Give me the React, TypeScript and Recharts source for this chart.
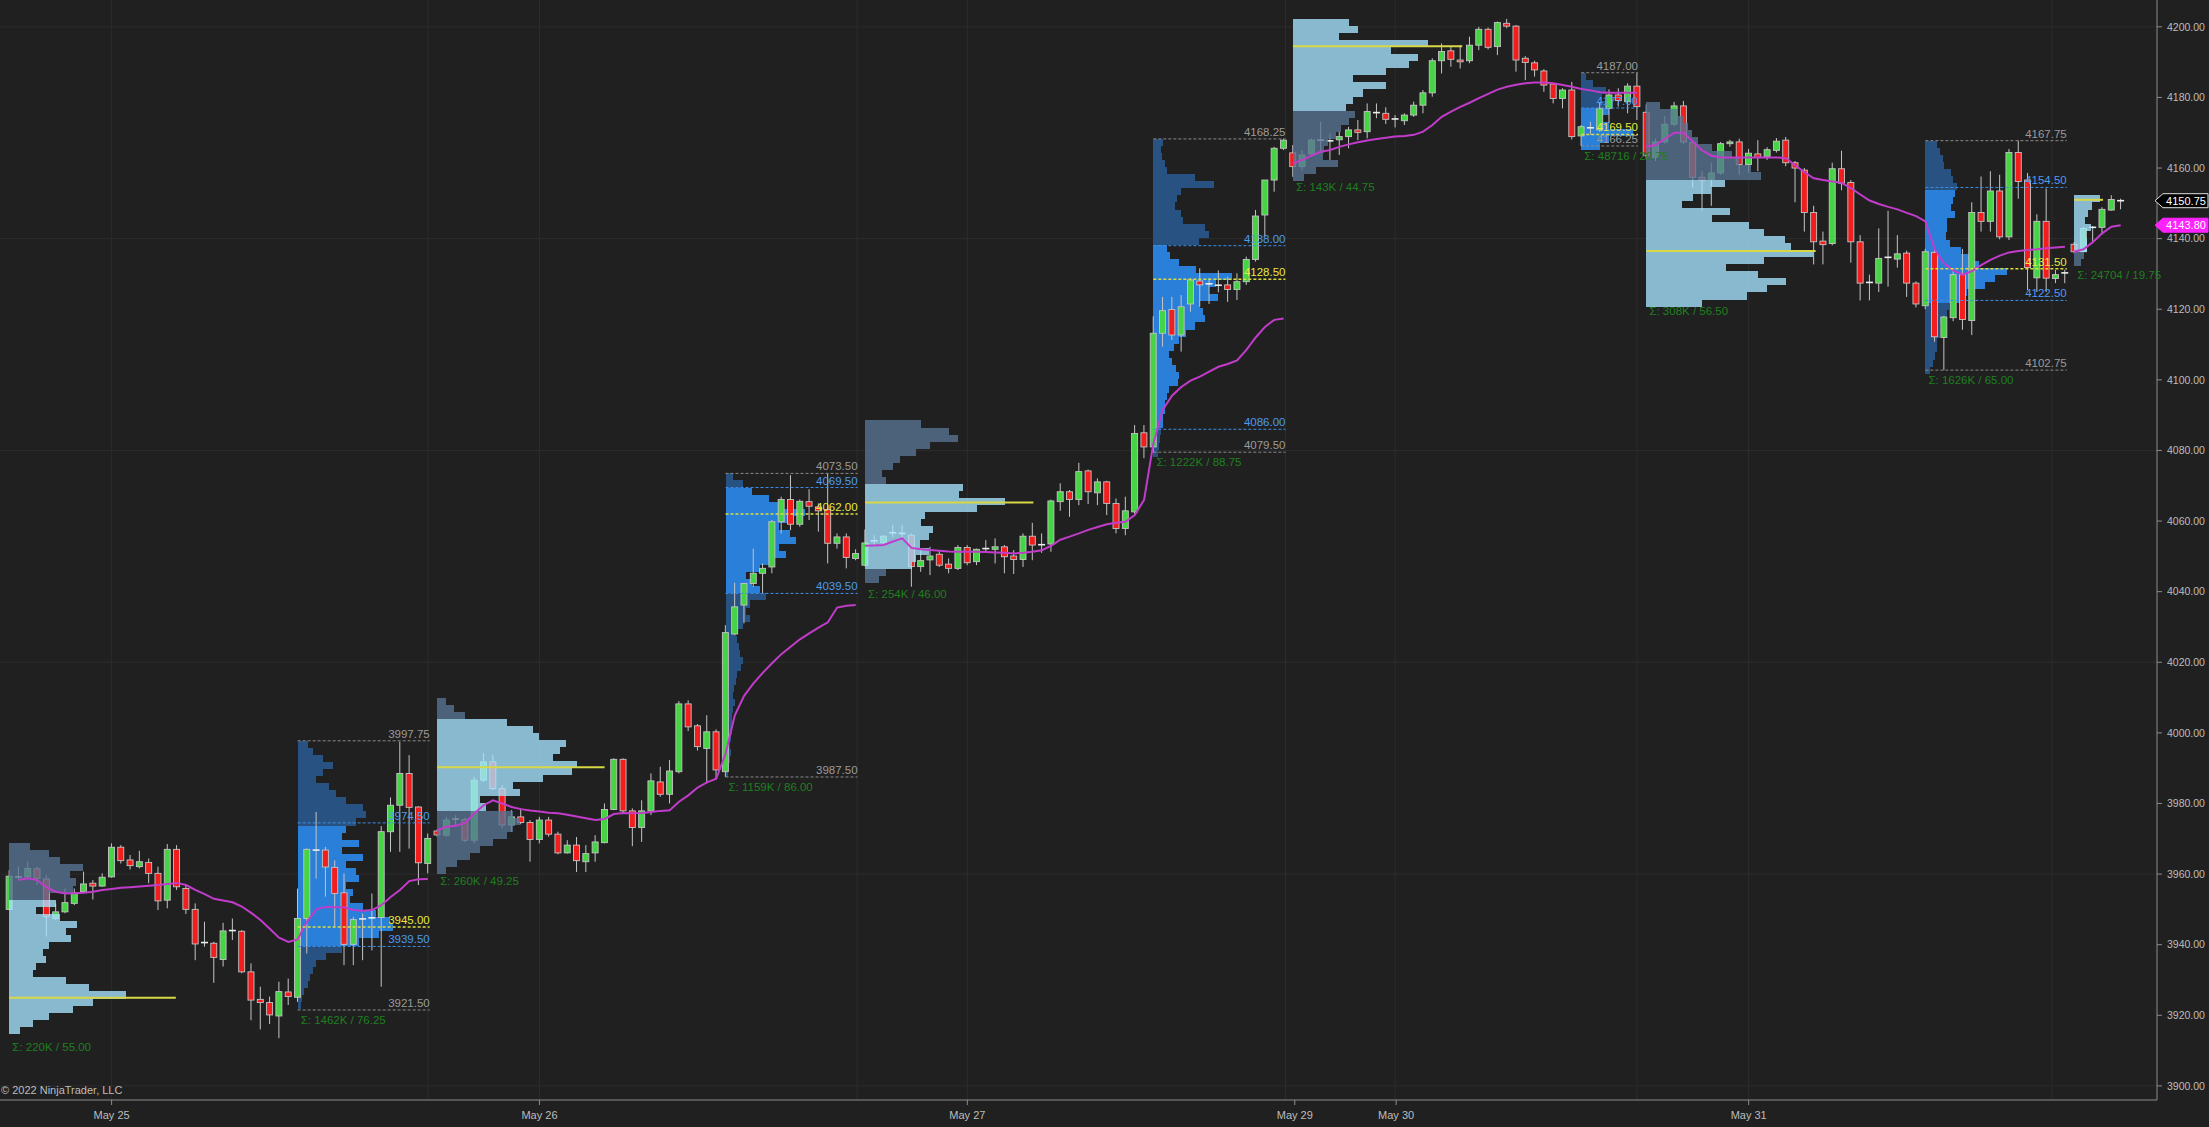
import React from "react";
import {
  ComposedChart,
  Bar,
  Line,
  XAxis,
  YAxis,
  ReferenceArea,
  ReferenceLine,
  ReferenceDot,
} from "recharts";

const FONT = "Liberation Sans, Arial, sans-serif";
const BG = "#202020";
const UP = "#45d443";
const DOWN = "#f21d1d";
const WICK = "#c4c4c4";
const VWAP = "#c23ccb";
const RTH_VA = "#2a7fd8";
const RTH_OUT = "#285282";
const ETH_VA = "#a5e4ff";
const ETH_OUT = "#577593";
const GRAY = "#9b9b9b";
const BLUE = "#4c9bef";
const YELLOW = "#e8e83e";
const GREEN = "#1f7f1f";
const BIN = 2;

// 30 min bars, index 0 .. 227
const opens = [
  3950.0, 3959.4, 3959.2, 3961.5, 3958.6, 3947.4, 3949.3, 3951.7, 3955.0, 3957.4,
  3956.6, 3959.2, 3967.6, 3964.0, 3962.1, 3963.3, 3960.2, 3952.6, 3967.0, 3955.9,
  3950.0, 3940.2, 3940.4, 3935.8, 3943.6, 3943.8, 3932.3, 3924.5, 3923.6, 3919.8,
  3926.6, 3925.1, 3947.4, 3967.0, 3966.8, 3961.9, 3954.7, 3940.1, 3947.1, 3947.4,
  3947.7, 3972.0, 3979.5, 3988.5, 3979.0, 3963.0, 3972.2, 3971.0, 3975.4, 3975.5,
  3969.6, 3986.6, 3991.8, 3984.2, 3973.9, 3976.2, 3974.6, 3969.8, 3975.3, 3971.3,
  3966.0, 3968.2, 3963.5, 3966.0, 3968.9, 3978.3, 3992.5, 3977.9, 3973.2, 3977.9,
  3986.1, 3982.6, 3989.0, 4008.2, 4002.0, 3995.6, 4000.3, 3989.0, 4028.0, 4036.2,
  4042.3, 4045.2, 4047.0, 4059.8, 4066.1, 4059.1, 4065.5, 4064.0, 4063.3, 4053.7,
  4055.5, 4049.4, 4047.5, 4054.0, 4053.9, 4056.5, 4056.7, 4056.0, 4047.1, 4049.0,
  4050.6, 4047.8, 4046.6, 4052.5, 4048.5, 4052.1, 4052.0, 4052.7, 4050.1, 4049.1,
  4055.7, 4053.2, 4053.5, 4065.5, 4068.3, 4066.1, 4074.2, 4068.0, 4071.1, 4065.0,
  4057.9, 4062.6, 4085.0, 4081.0, 4113.2, 4119.9, 4112.7, 4121.5, 4128.0, 4127.1,
  4127.2, 4126.9, 4125.6, 4127.8, 4134.1, 4146.7, 4156.6, 4165.6, 4164.3, 4160.4,
  4164.0, 4167.7, 4167.9, 4168.0, 4168.9, 4170.8, 4170.3, 4175.8, 4175.5, 4173.8,
  4173.4, 4175.0, 4177.8, 4181.3, 4190.4, 4193.2, 4190.6, 4190.4, 4194.8, 4199.3,
  4194.4, 4201.0, 4200.2, 4191.1, 4189.8, 4187.5, 4183.8, 4179.7, 4182.1, 4169.1,
  4171.5, 4170.8, 4176.9, 4180.7, 4178.8, 4183.2, 4175.8, 4163.0, 4167.4, 4172.4,
  4177.6, 4167.2, 4157.4, 4156.8, 4158.6, 4166.9, 4167.4, 4161.0, 4164.0, 4163.3,
  4165.0, 4167.9, 4161.5, 4159.4, 4147.4, 4139.3, 4138.6, 4159.8, 4155.9, 4139.1,
  4127.4, 4127.4, 4134.4, 4134.2, 4135.9, 4127.4, 4121.0, 4136.1, 4112.0, 4117.6,
  4129.8, 4116.8, 4147.4, 4144.9, 4153.5, 4140.5, 4164.4, 4156.6, 4128.9, 4144.9,
  4128.7, 4130.0, 4138.4, 4136.3, 4143.0, 4143.2, 4148.1, 4150.9,
];
const highs = [
  3961.1, 3962.1, 3963.5, 3962.1, 3959.7, 3951.7, 3955.9, 3955.9, 3960.7, 3958.3,
  3960.2, 3968.7, 3968.2, 3965.4, 3966.6, 3964.4, 3962.1, 3968.5, 3968.2, 3956.9,
  3951.7, 3946.5, 3940.8, 3946.2, 3947.4, 3944.1, 3934.7, 3928.1, 3925.3, 3929.5,
  3930.4, 3955.9, 3967.3, 3977.6, 3967.7, 3963.9, 3960.2, 3947.9, 3948.8, 3954.5,
  3973.6, 3981.7, 3997.5, 3993.7, 3979.2, 3971.5, 3972.6, 3976.2, 3976.7, 3976.0,
  3987.5, 3994.2, 3993.7, 3985.2, 3978.1, 3978.6, 3975.3, 3976.2, 3976.2, 3972.0,
  3969.6, 3970.5, 3968.2, 3971.0, 3980.0, 3992.8, 3992.8, 3978.6, 3980.9, 3988.5,
  3990.4, 3992.3, 4009.0, 4009.2, 4002.5, 4005.0, 4001.0, 4030.5, 4042.5, 4042.5,
  4052.2, 4048.0, 4060.3, 4066.9, 4073.0, 4066.1, 4069.0, 4065.0, 4073.5, 4056.5,
  4056.5, 4052.0, 4057.6, 4056.0, 4056.0, 4058.9, 4058.9, 4056.5, 4051.8, 4052.7,
  4051.8, 4049.4, 4053.2, 4053.2, 4052.2, 4054.6, 4055.1, 4053.2, 4051.8, 4056.5,
  4059.5, 4056.5, 4066.1, 4070.7, 4068.8, 4076.5, 4074.6, 4072.1, 4071.4, 4066.4,
  4066.9, 4087.2, 4087.2, 4118.0, 4123.5, 4123.5, 4124.0, 4128.8, 4131.6, 4128.8,
  4131.0, 4129.2, 4130.2, 4134.9, 4148.1, 4156.6, 4166.0, 4168.25, 4166.5, 4165.1,
  4168.4, 4173.1, 4169.8, 4170.3, 4171.7, 4173.6, 4178.3, 4178.3, 4177.2, 4175.0,
  4175.5, 4178.8, 4182.1, 4191.1, 4195.3, 4194.4, 4194.8, 4197.2, 4200.0, 4199.8,
  4201.5, 4202.25, 4200.5, 4191.7, 4190.4, 4188.0, 4184.0, 4182.6, 4184.4, 4172.2,
  4173.1, 4178.5, 4182.3, 4182.6, 4184.0, 4187.0, 4178.0, 4168.3, 4174.7, 4178.75,
  4179.0, 4167.4, 4159.1, 4161.5, 4167.4, 4168.0, 4168.3, 4165.4, 4167.9, 4165.9,
  4168.5, 4168.8, 4162.0, 4160.0, 4149.3, 4142.0, 4161.5, 4164.9, 4156.6, 4141.0,
  4129.8, 4142.9, 4147.9, 4141.0, 4136.6, 4127.9, 4137.1, 4137.1, 4118.1, 4131.7,
  4137.1, 4150.3, 4157.6, 4159.1, 4158.1, 4165.4, 4167.75, 4158.6, 4146.9, 4154.2,
  4131.2, 4131.2, 4139.0, 4143.4, 4143.6, 4148.9, 4152.3, 4151.3,
];
const lows = [
  3949.8, 3958.3, 3959.0, 3956.9, 3942.3, 3947.0, 3948.9, 3951.2, 3954.7, 3952.8,
  3956.4, 3959.0, 3963.0, 3961.3, 3961.6, 3957.4, 3949.8, 3950.3, 3955.5, 3948.7,
  3935.6, 3939.4, 3929.2, 3933.8, 3941.3, 3931.9, 3918.6, 3916.0, 3917.5, 3913.5,
  3922.9, 3923.8, 3937.5, 3958.7, 3953.6, 3945.1, 3934.2, 3934.2, 3935.6, 3938.4,
  3928.1, 3966.3, 3966.3, 3967.2, 3956.9, 3960.2, 3970.6, 3970.6, 3973.4, 3969.1,
  3968.7, 3986.1, 3983.8, 3972.9, 3972.0, 3974.1, 3963.5, 3968.7, 3970.6, 3965.6,
  3965.8, 3960.6, 3960.6, 3963.5, 3968.7, 3978.1, 3977.2, 3967.9, 3969.1, 3976.7,
  3981.9, 3980.0, 3988.5, 4000.5, 3995.0, 3985.7, 3987.1, 3987.5, 4027.7, 4031.0,
  4041.4, 4039.5, 4045.2, 4056.5, 4057.4, 4058.4, 4060.3, 4057.0, 4048.0, 4052.2,
  4046.6, 4048.9, 4047.2, 4052.7, 4053.5, 4055.4, 4054.9, 4041.4, 4045.6, 4044.7,
  4047.0, 4045.2, 4046.1, 4047.5, 4047.5, 4051.3, 4048.0, 4045.2, 4045.0, 4047.0,
  4048.9, 4051.0, 4051.3, 4062.9, 4061.2, 4064.5, 4064.8, 4064.5, 4061.7, 4056.5,
  4056.0, 4062.0, 4077.8, 4079.5, 4109.4, 4111.3, 4108.0, 4119.3, 4120.7, 4121.5,
  4124.8, 4122.1, 4122.6, 4126.9, 4133.5, 4140.5, 4153.3, 4165.1, 4157.5, 4159.3,
  4163.2, 4164.2, 4162.3, 4163.7, 4165.6, 4167.9, 4168.4, 4174.1, 4172.5, 4171.5,
  4172.2, 4174.5, 4175.5, 4180.2, 4186.8, 4188.7, 4188.2, 4189.7, 4193.4, 4193.6,
  4192.0, 4199.6, 4187.3, 4184.9, 4185.9, 4181.6, 4178.3, 4176.9, 4168.1, 4166.25,
  4169.4, 4170.3, 4172.7, 4177.4, 4175.5, 4173.6, 4162.5, 4162.0, 4166.9, 4171.8,
  4166.9, 4154.5, 4147.9, 4149.3, 4158.1, 4166.0, 4158.1, 4158.6, 4159.1, 4162.3,
  4164.4, 4160.5, 4150.3, 4142.0, 4132.7, 4132.7, 4138.1, 4153.7, 4133.2, 4122.5,
  4122.5, 4124.9, 4126.4, 4131.8, 4123.5, 4120.5, 4120.0, 4110.8, 4102.75, 4116.6,
  4114.2, 4112.7, 4142.0, 4142.0, 4139.8, 4139.6, 4151.3, 4125.4, 4124.9, 4124.9,
  4127.4, 4127.4, 4135.8, 4136.0, 4139.1, 4141.2, 4147.9, 4148.3,
];
const closes = [
  3959.4, 3959.2, 3961.6, 3958.8, 3947.9, 3949.3, 3951.9, 3954.7, 3957.2, 3956.6,
  3959.1, 3967.6, 3963.8, 3962.4, 3963.5, 3960.2, 3952.4, 3967.0, 3956.4, 3950.0,
  3940.2, 3940.6, 3936.4, 3943.9, 3944.0, 3932.3, 3924.3, 3923.6, 3920.1, 3926.7,
  3925.3, 3947.4, 3967.0, 3966.8, 3962.0, 3954.5, 3940.1, 3947.1, 3947.3, 3947.6,
  3972.0, 3979.5, 3988.5, 3978.9, 3963.2, 3970.1, 3971.1, 3975.3, 3975.6, 3969.6,
  3986.6, 3991.8, 3984.2, 3973.9, 3976.2, 3974.6, 3969.8, 3975.3, 3971.3, 3966.0,
  3968.2, 3963.8, 3965.8, 3969.1, 3978.3, 3992.5, 3977.9, 3973.2, 3977.9, 3986.4,
  3982.6, 3989.2, 4008.2, 4001.7, 3996.1, 4000.3, 3989.5, 4028.4, 4035.7, 4042.3,
  4045.2, 4046.6, 4059.8, 4066.1, 4059.1, 4065.6, 4064.2, 4062.9, 4053.7, 4055.5,
  4049.7, 4050.8, 4053.8, 4054.4, 4055.7, 4056.7, 4056.5, 4047.1, 4048.8, 4050.1,
  4047.5, 4046.6, 4052.5, 4048.2, 4052.0, 4052.2, 4052.7, 4049.9, 4049.1, 4055.7,
  4053.2, 4053.3, 4065.7, 4068.3, 4066.1, 4074.0, 4068.3, 4071.1, 4065.0, 4057.9,
  4062.9, 4084.8, 4081.0, 4113.2, 4119.6, 4112.7, 4120.7, 4128.3, 4126.9, 4127.2,
  4126.8, 4125.6, 4127.8, 4134.1, 4146.4, 4156.6, 4165.6, 4167.9, 4160.4, 4163.7,
  4167.9, 4167.9, 4167.7, 4168.9, 4170.8, 4170.1, 4176.0, 4175.7, 4173.8, 4173.9,
  4175.0, 4177.8, 4181.3, 4190.4, 4193.0, 4190.8, 4190.1, 4194.8, 4199.3, 4194.2,
  4201.2, 4200.2, 4190.6, 4189.9, 4187.8, 4183.5, 4179.7, 4182.1, 4168.9, 4171.7,
  4171.4, 4176.9, 4180.7, 4179.1, 4183.2, 4177.4, 4163.5, 4167.4, 4172.4, 4177.6,
  4167.4, 4157.4, 4156.6, 4158.6, 4166.9, 4167.4, 4161.0, 4164.2, 4163.0, 4165.2,
  4167.6, 4161.5, 4160.0, 4147.4, 4139.1, 4138.3, 4159.8, 4155.7, 4139.1, 4127.4,
  4127.6, 4134.4, 4134.7, 4135.7, 4127.4, 4121.5, 4136.3, 4112.2, 4117.8, 4129.8,
  4117.1, 4147.4, 4144.9, 4153.5, 4140.5, 4164.4, 4156.2, 4131.8, 4144.9, 4128.8,
  4129.8, 4130.3, 4136.3, 4142.9, 4143.2, 4148.3, 4151.1, 4150.75,
];
// session VWAP, resets at each session start
const vwap = [
  null, 3958.3, 3958.8, 3958.3, 3956.2, 3955.0, 3954.5, 3954.6, 3954.7, 3955.0,
  3955.5, 3955.8, 3956.1, 3956.3, 3956.5, 3956.7, 3956.9, 3957.2, 3957.5, 3956.9,
  3955.5, 3954.3, 3953.0, 3952.5, 3952.0, 3950.8, 3949.0, 3947.0, 3944.5, 3942.0,
  3940.8, 3941.5, 3946.5, 3950.0, 3950.7, 3950.6, 3950.6, 3949.8, 3949.6, 3949.8,
  3951.2, 3953.5, 3955.5, 3958.0, 3958.5, 3958.6, 3972.4, 3973.4, 3973.7, 3974.5,
  3977.2, 3979.5, 3980.9, 3980.0, 3979.0, 3978.4, 3978.0, 3977.7, 3977.4, 3977.2,
  3976.8, 3976.3, 3975.8, 3975.3, 3975.6, 3977.0, 3977.3, 3977.2, 3977.3, 3977.6,
  3977.9, 3978.1, 3980.5, 3982.3, 3984.5, 3986.0, 3987.0, 3994.0, 4005.0, 4010.5,
  4014.0, 4017.0, 4019.7, 4022.3, 4024.4, 4026.5, 4028.2, 4029.8, 4031.3, 4035.5,
  4036.0, 4036.2, 4053.0, 4053.1, 4053.2, 4054.2, 4055.1, 4052.4, 4052.0, 4051.8,
  4051.6, 4051.4, 4051.3, 4051.3, 4051.3, 4051.2, 4051.1, 4051.0, 4050.8, 4051.0,
  4051.3, 4051.7, 4053.0, 4054.7, 4055.6, 4056.5, 4057.5, 4058.3, 4059.1, 4059.5,
  4059.8, 4061.7, 4066.0, 4082.0, 4091.5, 4095.5, 4098.0, 4099.8, 4100.9, 4102.3,
  4103.7, 4104.5, 4105.5, 4108.5, 4112.0, 4115.0, 4117.0, 4117.4, 4161.3, 4162.3,
  4163.5, 4164.6, 4165.1, 4166.0, 4166.7, 4167.3, 4167.8, 4168.2, 4168.6, 4168.9,
  4169.1, 4169.4, 4170.3, 4172.2, 4174.5, 4176.0, 4177.3, 4178.5, 4179.8, 4181.0,
  4182.2, 4183.0, 4183.6, 4184.0, 4184.2, 4184.2, 4184.0, 4183.5, 4183.0, 4182.4,
  4182.0, 4181.5, 4181.3, 4181.3, 4181.3, 4181.3, 4166.0, 4166.5, 4168.3, 4170.0,
  4170.0, 4167.5, 4165.0, 4163.5, 4163.0, 4163.0, 4163.0, 4163.0, 4163.0, 4163.0,
  4163.0, 4162.8, 4160.8, 4158.8, 4157.1, 4156.6, 4156.2, 4155.8, 4154.3, 4152.5,
  4150.8, 4149.8, 4149.0, 4148.3, 4147.3, 4146.4, 4144.9, 4137.0, 4133.0, 4131.0,
  4129.8, 4130.8, 4132.5, 4134.0, 4135.2, 4136.1, 4136.5, 4136.8, 4137.0, 4137.3,
  4137.5, 4137.7, 4136.3, 4137.0, 4139.0, 4141.5, 4143.4, 4143.8,
];
const sessionStarts = [0, 46, 92, 138, 176, 222];

const dateTicks = [11, 57, 103, 138.2, 149.1, 187];
const dateLabels = ["May 25", "May 26", "May 27", "May 29", "May 30", "May 31"];
const priceTicks = [
  3900, 3920, 3940, 3960, 3980, 4000, 4020, 4040, 4060, 4080, 4100, 4120, 4140,
  4160, 4180, 4200,
];
const gridPrices = [3900, 3960, 4020, 4080, 4140, 4200];
const gridBars = [11, 45, 57, 91.15, 103, 137.2, 149, 175, 187, 219.6];

// volume profile widths (in bars), 2 point rows from the top
const p1W = [2.2, 4.3, 5.5, 7.9, 6.5, 7.2, 6.8, 4.3, 5.0, 2.9, 5.4, 7.3, 6.1, 6.6, 4.3, 3.6, 3.9, 2.9, 2.5, 6.1, 8.6, 12.5, 9.0, 6.8, 4.3, 2.5, 1.1];
const pAW = [1.1, 1.6, 2.7, 3.8, 2.7, 2.0, 3.4, 4.1, 5.2, 7.0, 7.3, 6.3, 5.2, 4.8, 6.6, 4.8, 7.0, 5.2, 6.3, 6.6, 5.2, 5.9, 5.6, 7.0, 8.4, 9.9, 10.2, 8.8, 6.6, 4.8, 3.0, 2.0, 1.6, 1.3, 1.1, 0.7, 0.5, 0.4];
const pBW = [1.0, 1.8, 3.0, 7.5, 10.3, 11.0, 13.9, 13.2, 12.5, 15.0, 14.5, 11.4, 8.2, 8.9, 4.6, 5.3, 8.2, 8.9, 8.2, 7.5, 6.0, 4.6, 3.5, 2.1, 1.0];
const pCW = [0.8, 1.9, 2.9, 4.7, 5.8, 8.5, 7.2, 5.8, 6.9, 7.6, 5.8, 6.5, 4.7, 3.7, 2.2, 2.9, 3.7, 4.4, 2.6, 2.2, 2.6, 1.9, 1.1, 1.2, 1.5, 1.6, 1.9, 1.7, 1.2, 1.1, 0.9, 0.8, 1.0, 0.8, 0.7, 0.8, 0.7, 0.6, 0.5, 0.6, 0.5, 0.4, 0.3];
const pDW = [6.0, 9.0, 10.0, 7.0, 5.5, 3.8, 3.0, 1.8, 2.3, 10.5, 10.1, 15.0, 12.0, 6.5, 6.0, 7.3, 6.9, 5.9, 6.9, 5.5, 5.1, 2.3, 1.5];
const pEW = [1.0, 0.8, 0.9, 1.2, 1.5, 4.5, 6.5, 3.0, 2.5, 2.3, 3.0, 3.2, 5.5, 6.0, 4.9, 1.5, 1.8, 2.8, 4.6, 8.5, 6.7, 6.0, 7.0, 5.0, 5.3, 5.6, 4.5, 3.5, 2.8, 2.2, 1.7, 2.0, 2.4, 2.8, 2.6, 1.7, 1.5, 1.3, 1.2, 1.0, 1.0, 0.8, 0.7, 0.6, 0.5];
const pFW = [6.0, 7.0, 5.0, 14.5, 10.5, 13.5, 12.5, 10.0, 6.5, 10.0, 7.5, 6.5, 5.7, 6.7, 6.0, 5.2, 4.6, 3.8, 3.3, 3.2, 4.9, 2.5, 1.2];
const pGW = [0.5, 1.3, 2.7, 2.2, 3.4, 3.0, 2.0, 3.0, 5.6, 3.0, 2.0];
const pHW = [1.5, 3.4, 4.1, 4.5, 4.9, 5.5, 7.1, 9.2, 10.0, 11.2, 12.3, 8.5, 7.0, 5.0, 3.8, 9.0, 7.1, 11.0, 12.7, 14.9, 15.6, 17.9, 12.7, 8.6, 12.0, 15.0, 13.0, 10.8, 6.0];
const pIW = [1.2, 1.6, 1.9, 2.0, 2.7, 3.0, 3.4, 3.2, 3.0, 2.8, 3.2, 2.3, 2.3, 2.2, 2.6, 3.8, 4.8, 5.8, 8.8, 7.5, 6.4, 4.5, 3.6, 2.5, 2.3, 1.9, 1.6, 1.6, 1.3, 1.2, 1.0, 0.8, 0.5];
const pJW = [2.8, 1.9, 1.5, 1.2, 1.8, 1.3, 1.4, 1.4, 1.0, 0.7];

type Profile = {
  id: string;
  rth: boolean;
  start: number;
  end: number;
  top: number;
  widths: number[];
  vaFrom: number;
  vaTo: number;
  poc: number;
  low: number;
  sigma: string;
  levels?: { v: number; kind: "hl" | "va" | "poc" }[];
};

const profiles: Profile[] = [
  { id: "p1", rth: false, start: 0, end: 17.9, top: 3968.75, widths: p1W, vaFrom: 8, vaTo: 26, poc: 3925.0, low: 3913.75, sigma: "Σ: 220K / 55.00" },
  {
    id: "pA", rth: true, start: 31, end: 45.2, top: 3997.75, widths: pAW, vaFrom: 12, vaTo: 28, poc: 3945.0, low: 3921.5, sigma: "Σ: 1462K / 76.25",
    levels: [{ v: 3997.75, kind: "hl" }, { v: 3974.5, kind: "va" }, { v: 3945.0, kind: "poc" }, { v: 3939.5, kind: "va" }, { v: 3921.5, kind: "hl" }],
  },
  { id: "pB", rth: false, start: 46, end: 64, top: 4010.0, widths: pBW, vaFrom: 3, vaTo: 15, poc: 3990.25, low: 3960.75, sigma: "Σ: 260K / 49.25" },
  {
    id: "pC", rth: true, start: 77, end: 91.2, top: 4073.5, widths: pCW, vaFrom: 2, vaTo: 16, poc: 4062.0, low: 3987.5, sigma: "Σ: 1159K / 86.00",
    levels: [{ v: 4073.5, kind: "hl" }, { v: 4069.5, kind: "va" }, { v: 4062.0, kind: "poc" }, { v: 4039.5, kind: "va" }, { v: 3987.5, kind: "hl" }],
  },
  { id: "pD", rth: false, start: 92, end: 110.1, top: 4088.5, widths: pDW, vaFrom: 9, vaTo: 20, poc: 4065.25, low: 4042.25, sigma: "Σ: 254K / 46.00" },
  {
    id: "pE", rth: true, start: 123, end: 137.2, top: 4168.25, widths: pEW, vaFrom: 15, vaTo: 40, poc: 4128.5, low: 4079.5, sigma: "Σ: 1222K / 88.75",
    levels: [{ v: 4168.25, kind: "hl" }, { v: 4138.0, kind: "va" }, { v: 4128.5, kind: "poc" }, { v: 4086.0, kind: "va" }, { v: 4079.5, kind: "hl" }],
  },
  { id: "pF", rth: false, start: 138, end: 156.2, top: 4202.25, widths: pFW, vaFrom: 0, vaTo: 12, poc: 4194.5, low: 4157.5, sigma: "Σ: 143K / 44.75" },
  {
    id: "pG", rth: true, start: 169, end: 175.1, top: 4187.0, widths: pGW, vaFrom: 5, vaTo: 10, poc: 4169.5, low: 4166.25, sigma: "Σ: 48716 / 20.75",
    levels: [{ v: 4187.0, kind: "hl" }, { v: 4177.0, kind: "va" }, { v: 4169.5, kind: "poc" }, { v: 4166.25, kind: "hl" }],
  },
  { id: "pH", rth: false, start: 176, end: 194.2, top: 4178.75, widths: pHW, vaFrom: 11, vaTo: 28, poc: 4136.5, low: 4122.25, sigma: "Σ: 308K / 56.50" },
  {
    id: "pI", rth: true, start: 206, end: 221.2, top: 4167.75, widths: pIW, vaFrom: 7, vaTo: 22, poc: 4131.5, low: 4102.75, sigma: "Σ: 1626K / 65.00",
    levels: [{ v: 4167.75, kind: "hl" }, { v: 4154.5, kind: "va" }, { v: 4131.5, kind: "poc" }, { v: 4122.5, kind: "va" }, { v: 4102.75, kind: "hl" }],
  },
  { id: "pJ", rth: false, start: 222, end: 225.1, top: 4152.25, widths: pJW, vaFrom: 0, vaTo: 7, poc: 4151.0, low: 4132.5, sigma: "Σ: 24704 / 19.75" },
];

const data = opens.map((o, i) => {
  let seg = 0;
  sessionStarts.forEach((s, k) => {
    if (i >= s) seg = k;
  });
  return {
    i,
    o,
    h: highs[i],
    l: lows[i],
    c: closes[i],
    range: [lows[i], highs[i]],
    va: seg % 2 === 0 ? vwap[i] : null,
    vb: seg % 2 === 1 ? vwap[i] : null,
  };
});

const renderCandle = (props: any) => {
  const { x, y, width, height, payload } = props;
  if (!payload || x == null || y == null) return <g />;
  const { o, h, l, c } = payload;
  const yHi = Math.min(y, y + height);
  const yLo = Math.max(y, y + height);
  const span = h - l;
  const toY = (v: number) => (span > 0 ? yHi + ((h - v) / span) * (yLo - yHi) : yHi);
  const cx = x + width / 2;
  const yo = toY(o);
  const yc = toY(c);
  const top = Math.min(yo, yc);
  const bh = Math.abs(yo - yc);
  return (
    <g>
      <line x1={cx} x2={cx} y1={yHi} y2={yLo} stroke={WICK} strokeWidth={1} />
      {Math.abs(o - c) < 0.45 ? (
        <line x1={x} x2={x + width} y1={yc} y2={yc} stroke="#eeeeee" strokeWidth={1.6} />
      ) : (
        <rect
          x={x + 0.5}
          y={top}
          width={width - 1}
          height={Math.max(bh, 1.5)}
          fill={c >= o ? UP : DOWN}
          stroke={WICK}
          strokeWidth={0.9}
        />
      )}
    </g>
  );
};

// snap profile rows to whole pixels so rows meet without seams
const crispRow = (fill: string, opacity: number) => (p: any) => {
  const y0 = Math.round(p.y);
  const y1 = Math.round(p.y + p.height);
  const x0 = Math.round(p.x);
  const x1 = Math.round(p.x + p.width);
  return (
    <rect
      x={x0}
      y={y0}
      width={Math.max(x1 - x0, 1)}
      height={Math.max(y1 - y0, 1)}
      fill={fill}
      fillOpacity={opacity}
      shapeRendering="crispEdges"
    />
  );
};

const textDot = (
  key: string,
  x: number,
  y: number,
  text: string,
  color: string,
  anchor: "start" | "end",
  dx: number,
  dy: number
) => (
  <ReferenceDot
    key={key}
    x={x}
    y={y}
    r={0}
    fill="none"
    stroke="none"
    zIndex={2000}
    shape={(p: any) => (
      <text
        x={p.cx + dx}
        y={p.cy + dy}
        fill={color}
        fontSize={11.5}
        fontFamily={FONT}
        textAnchor={anchor}
      >
        {text}
      </text>
    )}
  />
);

const priceMarker = (key: string, y: number, text: string, fill: string, stroke: string) => (
  <ReferenceDot
    key={key}
    x={230.9}
    y={y}
    r={0}
    fill="none"
    stroke="none"
    zIndex={2100}
    shape={(p: any) => (
      <g>
        <polygon
          points={`${p.cx - 2},${p.cy} ${p.cx + 6},${p.cy - 7} ${p.cx + 51},${p.cy - 7} ${p.cx + 51},${p.cy + 7} ${p.cx + 6},${p.cy + 7}`}
          fill={fill}
          stroke={stroke}
          strokeWidth={1}
        />
        <text x={p.cx + 29} y={p.cy + 4} fill="#ffffff" fontSize={11} fontFamily={FONT} textAnchor="middle">
          {text}
        </text>
      </g>
    )}
  />
);

export default function App() {
  const levelColor = (k: string) => (k === "hl" ? GRAY : k === "va" ? BLUE : YELLOW);
  const lineColor = (k: string) => (k === "hl" ? "#8a8a8a" : k === "va" ? "#3d8ee6" : "#dede3a");

  return (
    <div style={{ position: "relative", width: 2209, height: 1127, background: BG, overflow: "hidden" }}>
      <style>{`body{margin:0;background:${BG};}`}</style>
      <ComposedChart width={2209} height={1127} data={data} margin={{ top: 0, right: 0, bottom: 0, left: 0 }}>
        <XAxis
          dataKey="i"
          type="number"
          domain={[-1, 230.9]}
          allowDataOverflow
          ticks={dateTicks}
          interval={0}
          tickFormatter={(v: number) => dateLabels[dateTicks.indexOf(v)] ?? ""}
          height={27}
          stroke="#8c8c8c"
          tickSize={5}
          tickMargin={6}
          tick={{ fill: "#bdbdbd", fontSize: 11, fontFamily: FONT }}
        />
        <YAxis
          orientation="right"
          type="number"
          domain={[3896, 4207.6]}
          allowDataOverflow
          ticks={priceTicks}
          interval={0}
          tickFormatter={(v: number) => v.toFixed(2)}
          width={52}
          stroke="#8c8c8c"
          tickSize={5}
          tickMargin={5}
          tick={{ fill: "#bdbdbd", fontSize: 10.5, fontFamily: FONT }}
        />

        {gridPrices.map((v) => (
          <ReferenceLine key={`gy${v}`} y={v} stroke="#2c2c2c" strokeWidth={1} zIndex={-100} />
        ))}
        {gridBars.map((v) => (
          <ReferenceLine key={`gx${v}`} x={v} stroke="#2c2c2c" strokeWidth={1} zIndex={-100} />
        ))}

        {profiles
          .filter((p) => p.rth)
          .flatMap((p) =>
            p.widths.map((w, k) => (
              <ReferenceArea
                key={`${p.id}-${k}`}
                x1={p.start}
                x2={p.start + w}
                y1={p.top - (k + 1) * BIN}
                y2={p.top - k * BIN}
                stroke="none"
                zIndex={100}
                shape={crispRow(k >= p.vaFrom && k <= p.vaTo ? RTH_VA : RTH_OUT, 1)}
              />
            ))
          )}

        <Bar dataKey="range" barSize={7} shape={renderCandle} isAnimationActive={false} zIndex={300} />

        {profiles
          .filter((p) => !p.rth)
          .flatMap((p) =>
            p.widths.map((w, k) => (
              <ReferenceArea
                key={`${p.id}-${k}`}
                x1={p.start}
                x2={p.start + w}
                y1={p.top - (k + 1) * BIN}
                y2={p.top - k * BIN}
                stroke="none"
                zIndex={350}
                shape={crispRow(k >= p.vaFrom && k <= p.vaTo ? ETH_VA : ETH_OUT, 0.78)}
              />
            ))
          )}

        <Line dataKey="va" stroke={VWAP} strokeWidth={2} dot={false} activeDot={false} connectNulls={false} type="linear" isAnimationActive={false} zIndex={400} />
        <Line dataKey="vb" stroke={VWAP} strokeWidth={2} dot={false} activeDot={false} connectNulls={false} type="linear" isAnimationActive={false} zIndex={400} />

        {profiles
          .filter((p) => !p.rth)
          .map((p) => (
            <ReferenceLine
              key={`poc-${p.id}`}
              segment={[
                { x: p.start, y: p.poc },
                { x: p.end, y: p.poc },
              ]}
              stroke="#d8d846"
              strokeWidth={2}
              zIndex={450}
            />
          ))}

        {profiles
          .filter((p) => p.rth)
          .flatMap((p) =>
            (p.levels || []).map((lv, n) => (
              <ReferenceLine
                key={`lv-${p.id}-${n}`}
                segment={[
                  { x: p.start, y: lv.v },
                  { x: p.end, y: lv.v },
                ]}
                stroke={lineColor(lv.kind)}
                strokeWidth={lv.kind === "poc" ? 1.5 : 1}
                strokeDasharray="3 2"
                zIndex={450}
              />
            ))
          )}

        {profiles
          .filter((p) => p.rth)
          .flatMap((p) =>
            (p.levels || []).map((lv, n) =>
              textDot(`lt-${p.id}-${n}`, p.end, lv.v, lv.v.toFixed(2), levelColor(lv.kind), "end", 0, -3)
            )
          )}

        {profiles.map((p) => textDot(`sg-${p.id}`, p.start, p.low, p.sigma, GREEN, "start", 3, 14))}

        {priceMarker("mk-last", 4150.75, "4150.75", "#000000", "#e0e0e0")}
        {priceMarker("mk-vwap", 4143.8, "4143.80", "#ff22ff", "#ff22ff")}
      </ComposedChart>
      <div
        style={{
          position: "absolute",
          left: 1,
          top: 1084,
          color: "#bdbdbd",
          fontSize: 11,
          fontFamily: FONT,
          whiteSpace: "nowrap",
        }}
      >
        © 2022 NinjaTrader, LLC
      </div>
    </div>
  );
}
